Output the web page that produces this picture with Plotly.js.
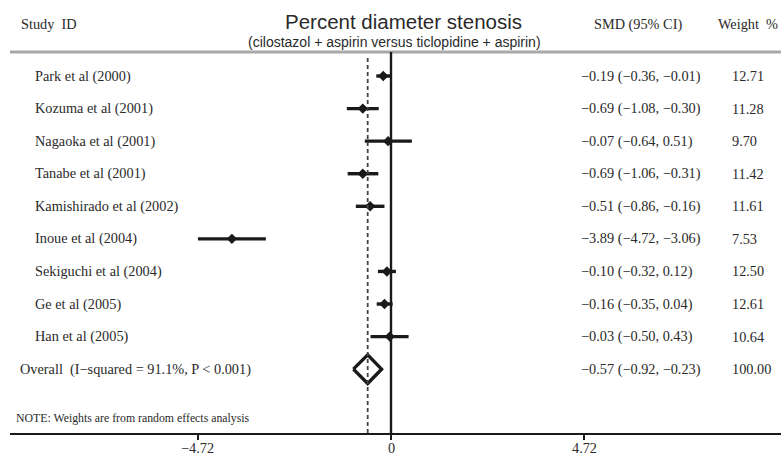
<!DOCTYPE html>
<html>
<head>
<meta charset="utf-8">
<script src="https://cdn.plot.ly/plotly-3.0.1.min.js"></script>
<style>html,body{margin:0;padding:0;background:#fff;}#chart{width:781px;height:458px;}</style>
</head>
<body>
<div id="chart"></div>
<script>
const studies = ["Park et al (2000)","Kozuma et al (2001)","Nagaoka et al (2001)","Tanabe et al (2001)","Kamishirado et al (2002)","Inoue et al (2004)","Sekiguchi et al (2004)","Ge et al (2005)","Han et al (2005)"];
const smd = [-0.19,-0.69,-0.07,-0.69,-0.51,-3.89,-0.10,-0.16,-0.03];
const ciLow = [-0.36,-1.08,-0.64,-1.06,-0.86,-4.72,-0.32,-0.35,-0.50];
const ciHigh = [-0.01,-0.30,0.51,-0.31,-0.16,-3.06,0.12,0.04,0.43];
const weights = ["12.71","11.28","9.70","11.42","11.61","7.53","12.50","12.61","10.64"];
const overallLabel = "Overall  (I\u2212squared = 91.1%, P < 0.001)";
const overallSmd = -0.57, overallLow = -0.92, overallHigh = -0.23;
const overallWeight = "100.00";
const tickVals = [-4.72, 0, 4.72];
const tickText = ["\u22124.72", "0", "4.72"];

const W = 781, H = 458, ML = 10, MR = 0, MT = 52, MB = 25;
const pw = W - ML - MR, ph = H - MT - MB;
const pxX = px => (px - ML) / pw;
const pxY = py => 1 - (py - MT) / ph;

function fmt(v){ return (v < 0 ? "\u2212" : "") + Math.abs(v).toFixed(2); }

const rows = studies.map((s, i) => i + 1);
const overallRow = studies.length + 1;
const noteRow = overallRow + 1.5;

const serif = "'Liberation Serif', 'Times New Roman', serif";
const sans = "'Liberation Sans', Arial, sans-serif";
const txt = "#2a2a2a";
const fs = 14.3;

const traces = [];
traces.push({
  type: "scatter", mode: "markers",
  x: smd, y: rows,
  marker: {symbol: "diamond", size: 8, color: "#1a1a1a"},
  error_x: {type: "data", symmetric: false,
    array: smd.map((v, i) => ciHigh[i] - v),
    arrayminus: smd.map((v, i) => v - ciLow[i]),
    thickness: 3.4, width: 0, color: "#1a1a1a"},
  hoverinfo: "skip", showlegend: false
});
const dh = 0.44;
traces.push({
  type: "scatter", mode: "lines",
  x: [overallLow, overallSmd, overallHigh, overallSmd, overallLow],
  y: [overallRow, overallRow - dh, overallRow, overallRow + dh, overallRow],
  line: {color: "#1a1a1a", width: 3.4},
  fill: "toself", fillcolor: "rgba(255,255,255,0)",
  hoverinfo: "skip", showlegend: false
});

const ann = [];
function add(text, x, y, yref, size, font, anchor, xref){
  ann.push({text: text, x: x, y: y, xref: xref || "paper", yref: yref, xanchor: anchor || "left", yanchor: "middle",
    showarrow: false, font: {family: font || serif, size: size || fs, color: txt}});
}
add("Study  ID", pxX(19), pxY(24), "paper");
add("SMD (95% CI)", pxX(592), pxY(24), "paper");
add("Weight  %", pxX(716), pxY(24), "paper");
add("Percent diameter stenosis", pxX(403), pxY(22), "paper", 20.5, sans, "center");
add("(cilostazol + aspirin versus ticlopidine + aspirin)", pxX(394), pxY(42), "paper", 14, sans, "center");
studies.forEach((s, i) => {
  add(s, pxX(33), rows[i], "y");
  add(fmt(smd[i]) + " (" + fmt(ciLow[i]) + ", " + fmt(ciHigh[i]) + ")", pxX(579), rows[i], "y");
  add(weights[i], pxX(730), rows[i], "y");
});
add(overallLabel, pxX(18), overallRow, "y");
add(fmt(overallSmd) + " (" + fmt(overallLow) + ", " + fmt(overallHigh) + ")", pxX(579), overallRow, "y");
add(overallWeight, pxX(730), overallRow, "y");
add("NOTE: Weights are from random effects analysis", pxX(14), noteRow, "y", 11.8);
tickVals.forEach((v, i) => add(tickText[i], v, pxY(448), "paper", fs, serif, "center", "x"));

const shapes = [
  {type: "line", xref: "paper", yref: "paper", x0: 0, x1: 1, y0: 1, y1: 1, line: {color: "#a8a8a8", width: 3}},
  {type: "line", xref: "x", yref: "paper", x0: 0, x1: 0, y0: 0, y1: 1, line: {color: "#1a1a1a", width: 2.4}},
  {type: "line", xref: "x", yref: "paper", x0: overallSmd, x1: overallSmd, y0: 0, y1: 0.99, line: {color: "#444", width: 1.8, dash: "4px,3px"}}
];

const s = 40.9;
const xmin = -(391 - ML) / s;
const xmax = xmin + pw / s;

const layout = {
  width: W, height: H,
  margin: {l: ML, r: MR, t: MT, b: MB, pad: 0},
  paper_bgcolor: "#fff", plot_bgcolor: "#fff",
  xaxis: {range: [xmin, xmax], showgrid: false, zeroline: false, showline: true, linecolor: "#1a1a1a", linewidth: 2,
    ticks: "outside", ticklen: 5, tickwidth: 2, tickcolor: "#1a1a1a",
    tickvals: tickVals, showticklabels: false, fixedrange: true},
  yaxis: {range: [11.96, 0.263], visible: false, fixedrange: true},
  annotations: ann, shapes: shapes, showlegend: false
};
Plotly.newPlot("chart", traces, layout, {displayModeBar: false, staticPlot: true});
</script>
</body>
</html>
